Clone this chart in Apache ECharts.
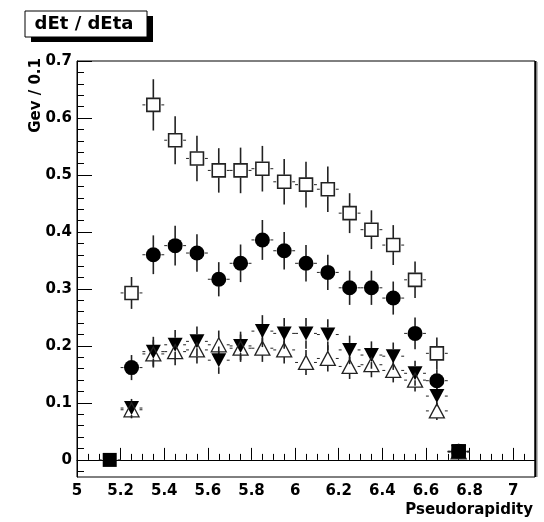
<!DOCTYPE html>
<html>
<head>
<meta charset="utf-8">
<script src="https://cdn.jsdelivr.net/npm/echarts@6/dist/echarts.min.js"></script>
<style>html,body{margin:0;padding:0;background:#fff}#c{width:544px;height:522px}</style>
</head>
<body>
<div id="c"></div>
<script>
// ---- data ----
const xBins = [5.15, 5.25, 5.35, 5.45, 5.55, 5.65, 5.75, 5.85, 5.95, 6.05, 6.15, 6.25, 6.35, 6.45, 6.55, 6.65, 6.75];
const openSquare    = [null, 0.293, 0.623, 0.561, 0.529, 0.508, 0.508, 0.511, 0.488, 0.483, 0.475, 0.433, 0.404, 0.377, 0.316, 0.187, 0.015];
const openSquareErr = [null, 0.028, 0.045, 0.042, 0.040, 0.039, 0.040, 0.040, 0.040, 0.040, 0.040, 0.035, 0.034, 0.035, 0.032, 0.028, 0.004];
const filledCircle    = [null, 0.162, 0.360, 0.376, 0.363, 0.317, 0.345, 0.386, 0.367, 0.345, 0.329, 0.302, 0.302, 0.284, 0.222, 0.139, 0.015];
const filledCircleErr = [null, 0.022, 0.034, 0.035, 0.033, 0.030, 0.033, 0.035, 0.033, 0.032, 0.031, 0.030, 0.030, 0.029, 0.028, 0.020, 0.004];
const filledDown    = [null, 0.091, 0.190, 0.202, 0.208, 0.175, 0.200, 0.226, 0.222, 0.222, 0.220, 0.193, 0.184, 0.182, 0.152, 0.112, 0.014];
const filledDownErr = [null, 0.016, 0.026, 0.026, 0.026, 0.024, 0.025, 0.028, 0.027, 0.027, 0.027, 0.025, 0.024, 0.024, 0.022, 0.018, 0.004];
const openUp    = [null, 0.088, 0.186, 0.190, 0.193, 0.202, 0.196, 0.196, 0.193, 0.171, 0.178, 0.164, 0.167, 0.157, 0.140, 0.086, 0.014];
const openUpErr = [null, 0.015, 0.024, 0.024, 0.024, 0.025, 0.024, 0.024, 0.024, 0.022, 0.023, 0.022, 0.022, 0.021, 0.020, 0.016, 0.004];
const filledSquare    = [0.000, null, null, null, null, null, null, null, null, null, null, null, null, null, null, null, 0.015];
const filledSquareErr = [0.002, null, null, null, null, null, null, null, null, null, null, null, null, null, null, null, 0.004];
const binHalfWidth = 0.05;

const xTickLabels = [5, 5.2, 5.4, 5.6, 5.8, 6, 6.2, 6.4, 6.6, 6.8, 7];
const yTickLabels = [0, 0.1, 0.2, 0.3, 0.4, 0.5, 0.6, 0.7];
const xMinorTicks = [];
for (let i = 1; i <= 42; i++) { const v = +(5 + i * 0.05).toFixed(2); if (Math.abs(v * 5 - Math.round(v * 5)) > 1e-6) xMinorTicks.push(v); }
const yMinorTicks = [];
for (let i = -1; i <= 35; i++) { const v = +(i * 0.02).toFixed(2); if (Math.abs(v * 10 - Math.round(v * 10)) > 1e-6) yMinorTicks.push(v); }

const FONT = 'DejaVu Sans';
const LINE = '#222';

function pts(vals) {
  return xBins.map((x, i) => vals[i] == null ? null : [x, vals[i]]).filter(Boolean);
}
function errPts(vals, errs) {
  return xBins.map((x, i) => vals[i] == null ? null : [x, vals[i], errs[i]]).filter(Boolean);
}
function errSeries(vals, errs, half) {
  return {
    type: 'custom',
    z: 2,
    silent: true,
    data: errPts(vals, errs),
    encode: { x: 0, y: 1 },
    renderItem: function (params, api) {
      const x = api.value(0), y = api.value(1), e = api.value(2);
      const c = api.coord([x, y]);
      const t = api.coord([x, y + e]);
      const b = api.coord([x, y - e]);
      const l = api.coord([x - binHalfWidth, y]);
      const r = api.coord([x + binHalfWidth, y]);
      const st = { stroke: LINE, lineWidth: 1.6 };
      const sth = { stroke: LINE, lineWidth: 1 };
      const ch = [];
      if (c[1] - t[1] > half) ch.push({ type: 'line', shape: { x1: c[0], y1: t[1], x2: c[0], y2: c[1] - half }, style: st });
      if (b[1] - c[1] > half) ch.push({ type: 'line', shape: { x1: c[0], y1: c[1] + half, x2: c[0], y2: b[1] }, style: st });
      ch.push({ type: 'line', shape: { x1: l[0], y1: c[1], x2: c[0] - half - 1, y2: c[1] }, style: sth });
      ch.push({ type: 'line', shape: { x1: c[0] + half + 1, y1: c[1], x2: r[0], y2: c[1] }, style: sth });
      return { type: 'group', children: ch };
    }
  };
}

const chart = echarts.init(document.getElementById('c'), null, { renderer: 'canvas' });
const labelStyle = { color: '#000', fontFamily: FONT, fontWeight: 'bold', fontSize: 15 };
chart.setOption({
  animation: false,
  backgroundColor: '#fff',
  grid: { left: 77, right: 9, top: 61, bottom: 45, show: true, borderColor: '#000', borderWidth: 1, backgroundColor: 'transparent' },
  xAxis: [
    {
      type: 'value', min: 5, max: 7.1,
      axisLine: { show: true, lineStyle: { color: '#000', width: 1 } },
      axisTick: { show: true, inside: true, length: 12, customValues: xTickLabels, lineStyle: { color: '#000', width: 1 } },
      axisLabel: Object.assign({ customValues: xTickLabels, margin: 7, formatter: v => String(+v.toFixed(1)) }, labelStyle),
      splitLine: { show: false }
    },
    {
      type: 'value', min: 5, max: 7.1, position: 'bottom',
      axisLine: { show: false },
      axisTick: { show: true, inside: true, length: 6, customValues: xMinorTicks, lineStyle: { color: '#000', width: 1 } },
      axisLabel: { show: false },
      splitLine: { show: false }
    }
  ],
  yAxis: [
    {
      type: 'value', min: -0.03, max: 0.7,
      axisLine: { show: true, lineStyle: { color: '#000', width: 1 } },
      axisTick: { show: true, inside: true, length: 15, customValues: yTickLabels, lineStyle: { color: '#000', width: 1 } },
      axisLabel: Object.assign({ customValues: yTickLabels, margin: 5, formatter: v => String(+v.toFixed(1)) }, labelStyle),
      splitLine: { show: false }
    },
    {
      type: 'value', min: -0.03, max: 0.7, position: 'left',
      axisLine: { show: false },
      axisTick: { show: true, inside: true, length: 7, customValues: yMinorTicks, lineStyle: { color: '#000', width: 1 } },
      axisLabel: { show: false },
      splitLine: { show: false }
    }
  ],
  series: [
    errSeries(openSquare, openSquareErr, 7),
    errSeries(filledCircle, filledCircleErr, 7),
    errSeries(filledDown, filledDownErr, 7),
    errSeries(openUp, openUpErr, 7),
    errSeries(filledSquare, filledSquareErr, 7),
    { type: 'scatter', z: 3, silent: true, data: pts(openSquare), symbol: 'rect', symbolSize: 13,
      itemStyle: { color: 'transparent', borderColor: LINE, borderWidth: 1.6, opacity: 1 } },
    { type: 'scatter', z: 3, silent: true, data: pts(filledCircle), symbol: 'circle', symbolSize: 15,
      itemStyle: { color: '#000', opacity: 1 } },
    { type: 'scatter', z: 3, silent: true, data: pts(filledDown), symbol: 'triangle', symbolRotate: 180, symbolSize: [15, 14],
      itemStyle: { color: '#000', opacity: 1 } },
    { type: 'scatter', z: 3, silent: true, data: pts(openUp), symbol: 'triangle', symbolSize: [15, 14],
      itemStyle: { color: 'transparent', borderColor: LINE, borderWidth: 1.3, opacity: 1 } },
    { type: 'scatter', z: 3, silent: true, data: pts(filledSquare), symbol: 'rect', symbolSize: 14,
      itemStyle: { color: '#000', opacity: 1 } }
  ],
  graphic: [
    { type: 'rect', shape: { x: 31, y: 16, width: 122, height: 26 }, style: { fill: '#000' }, z: 10 },
    { type: 'rect', shape: { x: 25, y: 11, width: 122, height: 26 }, style: { fill: '#fff', stroke: '#000', lineWidth: 1 }, z: 11 },
    { type: 'text', x: 84, y: 24, z: 12, style: { text: 'dEt / dEta', fill: '#000', font: 'bold 18px "DejaVu Sans"', align: 'center', verticalAlign: 'middle' } },
    { type: 'text', x: 36, y: 58, rotation: Math.PI / 2, z: 12, style: { text: 'Gev / 0.1', fill: '#000', font: 'bold 15px "DejaVu Sans"', align: 'right', verticalAlign: 'middle' } },
    { type: 'text', x: 533, y: 510, z: 12, style: { text: 'Pseudorapidity', fill: '#000', font: 'bold 15px "DejaVu Sans"', align: 'right', verticalAlign: 'middle' } },
    { type: 'line', shape: { x1: 535.5, y1: 61, x2: 535.5, y2: 477 }, style: { stroke: '#000', lineWidth: 2 }, z: 12 },
    { type: 'line', shape: { x1: 537.5, y1: 62, x2: 537.5, y2: 477 }, style: { stroke: '#bbb', lineWidth: 1 }, z: 12 }
  ]
});
</script>
</body>
</html>
